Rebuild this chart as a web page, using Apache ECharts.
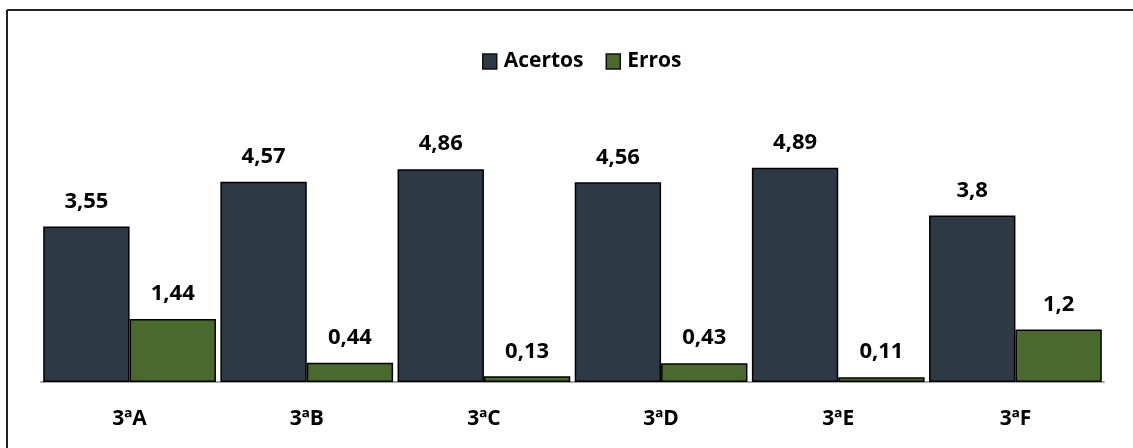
<!DOCTYPE html>
<html>
<head>
<meta charset="utf-8">
<script src="https://cdn.jsdelivr.net/npm/echarts@6/dist/echarts.min.js"></script>
<style>
  html, body { margin: 0; padding: 0; background: #fff; }
  #chart { width: 1133px; height: 448px; }
</style>
</head>
<body>
<div id="chart"></div>
<script>
const categories = ['3ªA', '3ªB', '3ªC', '3ªD', '3ªE', '3ªF'];
const acertos = [3.55, 4.57, 4.86, 4.56, 4.89, 3.8];
const erros = [1.44, 0.44, 0.13, 0.43, 0.11, 1.2];

const fmt = v => String(v).replace('.', ',');
const font = '"Open Sans", "Noto Sans", sans-serif';

const chart = echarts.init(document.getElementById('chart'));
chart.setOption({
  animation: false,
  legend: {
    top: 46,
    left: 477,
    itemWidth: 14,
    itemHeight: 15,
    itemGap: 22,
    icon: 'rect',
    itemStyle: { borderColor: '#111', borderWidth: 1.5 },
    textStyle: { fontFamily: font, fontWeight: 'bold', fontSize: 21, color: '#000', padding: [0, 0, 0, 2] },
    data: ['Acertos', 'Erros']
  },
  grid: { left: 41, right: 29, top: 163, bottom: 66 },
  xAxis: {
    type: 'category',
    data: categories,
    axisTick: { show: false },
    axisLine: { lineStyle: { color: '#a6a6a6', width: 2 } },
    axisLabel: { margin: 27, fontFamily: font, fontWeight: 'bold', fontSize: 21, color: '#000' }
  },
  yAxis: {
    type: 'value',
    min: 0,
    max: 5,
    show: false,
    splitLine: { show: false }
  },
  series: [
    {
      name: 'Acertos',
      type: 'bar',
      data: acertos,
      barGap: '0%',
      barCategoryGap: '2.5%',
      itemStyle: { color: '#2e3946', borderColor: '#000', borderWidth: 1.5 },
      label: {
        show: true, position: 'top', distance: 14,
        formatter: p => fmt(p.value),
        fontFamily: font, fontWeight: 'bold', fontSize: 22, color: '#000'
      }
    },
    {
      name: 'Erros',
      type: 'bar',
      data: erros,
      itemStyle: { color: '#4a6a2d', borderColor: '#000', borderWidth: 1.5 },
      label: {
        show: true, position: 'top', distance: 14,
        formatter: p => fmt(p.value),
        fontFamily: font, fontWeight: 'bold', fontSize: 22, color: '#000'
      }
    }
  ],
  graphic: [
    { type: 'line', shape: { x1: 7, y1: 10, x2: 1133, y2: 10 }, style: { stroke: '#222', lineWidth: 2 } },
    { type: 'line', shape: { x1: 7, y1: 10, x2: 7, y2: 448 }, style: { stroke: '#222', lineWidth: 2 } }
  ]
});
</script>
</body>
</html>
